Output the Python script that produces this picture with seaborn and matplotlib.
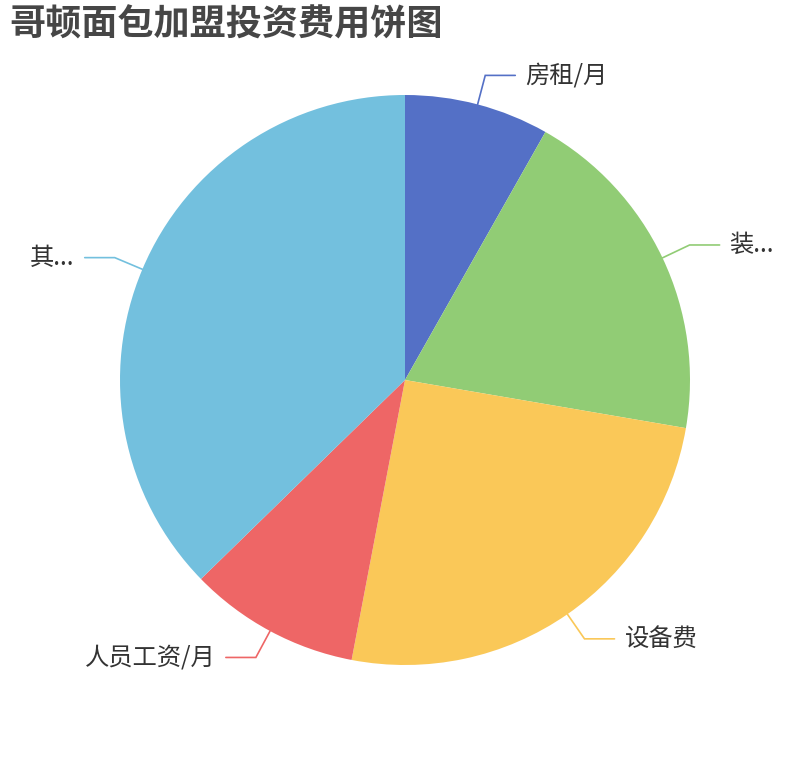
import numpy as np
import matplotlib

matplotlib.use("Agg")
import matplotlib.pyplot as plt
import seaborn as sns

# slice data, clockwise from 12 o'clock
categories = ["房租/月", "装修费", "设备费", "人员工资/月", "其他费用"]
shown_labels = ["房租/月", "装...", "设备费", "人员工资/月", "其..."]
values = [8.2, 19.5, 25.3, 9.7, 37.3]
colors = ["#5470c6", "#91cc75", "#fac858", "#ee6666", "#73c0de"]

title = "哥顿面包加盟投资费用饼图"

W, H = 810, 760
CX, CY, R = 405, 380, 285

sns.set_theme(style="white")
plt.rcParams["font.family"] = ["Noto Sans CJK SC", "DejaVu Sans"]

fig = plt.figure(figsize=(W / 100, H / 100), dpi=100)
ax = fig.add_axes([0, 0, 1, 1])

wedges, _ = ax.pie(values, colors=colors, startangle=90, counterclock=False,
                   center=(CX, CY), radius=R,
                   wedgeprops={"linewidth": 0, "antialiased": True})
ax.set_xlim(0, W)
ax.set_ylim(0, H)
ax.set_aspect("equal")
ax.axis("off")

# label lines: radial segment then horizontal segment (echarts style)
for w, lab, col in zip(wedges, shown_labels, colors):
    mid = np.deg2rad((w.theta1 + w.theta2) / 2)
    x0, y0 = CX + R * np.cos(mid), CY + R * np.sin(mid)
    x1, y1 = CX + (R + 30) * np.cos(mid), CY + (R + 30) * np.sin(mid)
    side = 1 if np.cos(mid) >= 0 else -1
    x2 = x1 + 30 * side
    ax.plot([x0, x1, x2], [y0, y1, y1], color=col, lw=1.2,
            solid_joinstyle="miter")
    ax.text(x2 + 10 * side, y1, lab, fontsize=17.5, color="#333333",
            ha="left" if side > 0 else "right", va="center")

ax.text(9, H - 25, title, fontsize=26, fontweight="bold",
        color="#464646", ha="left", va="center")

fig.savefig("out.png", dpi=100)
